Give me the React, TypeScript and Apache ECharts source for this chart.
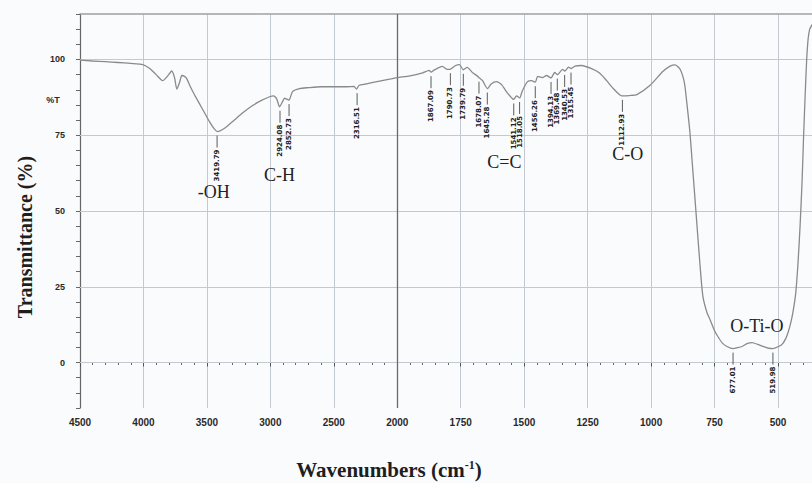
import React, { useEffect, useRef } from "react";
import * as echarts from "echarts";

// Spectrum (wavenumber in cm-1, transmittance in %)
const wavenumbers = [
  4500, 4400, 4300, 4200, 4100, 4005, 3950, 3900, 3848, 3810, 3777, 3755, 3737, 3715, 3698, 3680, 3659, 3635,
  3600, 3560, 3520, 3480, 3440, 3415, 3380, 3340, 3297, 3220, 3140, 3070, 3006, 2975, 2950, 2928, 2905, 2888,
  2865, 2853, 2825, 2770, 2700, 2600, 2500, 2400, 2340, 2322, 2300, 2250, 2150, 2050, 2000,
  1950, 1900, 1874, 1867, 1855, 1822, 1803, 1790, 1770, 1755, 1740, 1724, 1704, 1684, 1678, 1664, 1645, 1629,
  1609, 1589, 1570, 1541, 1530, 1518, 1507, 1487, 1471, 1456, 1447, 1428, 1412, 1394, 1380, 1369, 1349, 1340,
  1325, 1315, 1300, 1274, 1230, 1203, 1175, 1150, 1116, 1085, 1056, 1005, 954, 925, 905, 887, 875, 867, 857,
  847, 837, 827, 808, 796, 780, 768, 750, 737, 720, 701, 677, 660, 642, 620, 602, 580, 559, 540, 520, 500, 484,
  470, 460, 450, 441, 430, 421, 413, 405, 399, 393, 387, 381, 375, 369, 366,
];
const transmittance = [
  99.8, 99.5, 99.3, 99.0, 98.7, 98.3, 97.0, 95.0, 93.0, 94.5, 96.2, 94.0, 90.2, 92.5, 94.7, 94.5, 93.7, 91.4,
  88.5, 85.5, 82.5, 79.5, 77.0, 76.2, 76.8, 78.0, 79.5, 82.3, 84.8, 86.5, 87.7, 88.0, 87.0, 84.4, 86.0, 87.2,
  86.8, 86.6, 89.4, 90.4, 90.7, 91.0, 91.0, 91.0, 91.1, 90.2, 91.5, 91.9, 92.8, 93.6, 94.0,
  94.6, 95.6, 96.4, 95.8, 96.5, 97.7, 96.7, 96.8, 98.0, 98.3, 96.6, 97.4, 95.7, 94.5, 94.0, 93.0, 90.4, 92.0,
  92.7, 91.7, 89.4, 86.8, 88.0, 87.3, 89.7, 92.7, 93.0, 92.5, 94.4, 94.0, 94.7, 93.9, 95.7, 95.0, 96.7, 96.2,
  97.5, 97.0, 97.8, 98.0, 96.8, 95.5, 93.0, 90.5, 88.0, 88.1, 88.4, 91.4, 96.0, 97.8, 98.2, 97.0, 94.5, 91.4, 84.0,
  76.0, 65.0, 54.0, 33.0, 21.9, 16.5, 14.2, 10.5, 8.6, 6.5, 5.3, 4.6, 4.9, 5.3, 6.3, 6.6, 6.0, 5.3, 4.8, 4.6, 5.2, 6.0,
  7.8, 10.0, 13.0, 16.6, 23.0, 33.0, 45.0, 60.0, 75.0, 88.0, 100.0, 107.0, 110.0, 111.0, 111.5,
];

// Peak annotations
const peakLabels = [
  "3419.79", "2924.08", "2852.73", "2316.51", "1867.09", "1790.73", "1739.79", "1678.07", "1645.28",
  "1541.12", "1518.05", "1456.26", "1394.13", "1369.48", "1340.53", "1315.45", "1112.93", "677.01", "519.98",
];
const peakT = [76.2, 84.4, 86.6, 90.2, 95.8, 96.8, 96.6, 94.0, 90.4, 86.8, 87.3, 92.5, 93.9, 95.0, 96.2, 97.0, 88.0, 4.6, 4.6];

// Functional group labels
const groupNames = ["-OH", "C-H", "C=C", "C-O", "O-Ti-O"];
const groupW = [3447, 2928, 1578, 1092, 583];
const groupT = [56.3, 62.0, 66.2, 68.9, 11.9];

// Axes
const xTickWavenumbers = [4500, 4000, 3500, 3000, 2500, 2000, 1750, 1500, 1250, 1000, 750, 500];
const yGridValues = [0, 25, 50, 75, 100];
const scaleBreak = 2000;
const xLeftEnd = 366;
const yMin = -15;
const yMax = 115;

// Broken wavenumber scale: above 2000 cm-1 each unit counts half
const toU = (w: number) => (w >= scaleBreak ? (4500 - w) / 2 : (4500 - scaleBreak) / 2 + (scaleBreak - w));
const fromU = (u: number) => (u <= (4500 - scaleBreak) / 2 ? 4500 - 2 * u : scaleBreak - (u - (4500 - scaleBreak) / 2));

export default function App() {
  const ref = useRef<HTMLDivElement>(null);
  useEffect(() => {
    if (!ref.current) return;
    const chart = echarts.init(ref.current, null, { renderer: "svg" });
    const curve = wavenumbers.map((w, i) => [toU(w), transmittance[i]]);
    const peaks = peakLabels.map((l, i) => [toU(parseFloat(l)), peakT[i]]);
    const groups = groupNames.map((_, i) => [toU(groupW[i]), groupT[i]]);
    const uMax = toU(xLeftEnd);
    const tickSet = new Set(xTickWavenumbers.map(toU));
    const serif = "'Liberation Serif', 'DejaVu Serif', serif";
    const gridColor = "#c2c9d2";

    chart.setOption({
      animation: false,
      backgroundColor: "#fafbfd",
      grid: { left: 80, right: 0, top: 14, bottom: 75 },
      xAxis: [
        {
          type: "value",
          min: 0,
          max: uMax,
          interval: 250,
          axisLine: { lineStyle: { color: "#666", width: 1.2 } },
          axisTick: { length: 4, lineStyle: { color: "#555" } },
          minorTick: { show: true, splitNumber: 5, length: 2.5, lineStyle: { color: "#666" } },
          axisLabel: {
            margin: 9,
            fontSize: 10,
            fontWeight: "bold",
            color: "#2a2a2a",
            fontFamily: "'Liberation Sans', Arial, sans-serif",
            showMaxLabel: false,
            formatter: (u: number) => (tickSet.has(u) ? String(Math.round(fromU(u))) : ""),
          },
          splitLine: { show: true, lineStyle: { color: gridColor, width: 1 } },
        },
        {
          type: "value",
          position: "top",
          min: 0,
          max: uMax,
          axisLine: { show: true, lineStyle: { color: "#a0a0a0", width: 1.5 } },
          axisTick: { show: false },
          axisLabel: { show: false },
          splitLine: { show: false },
        },
      ],
      yAxis: {
        type: "value",
        min: yMin,
        max: yMax,
        interval: 5,
        axisLine: { show: true, lineStyle: { color: "#666", width: 1.2 } },
        axisTick: { show: true, length: 4, lineStyle: { color: "#666" } },
        axisLabel: {
          margin: 15,
          fontSize: 9,
          fontWeight: "bold",
          color: "#2a2a2a",
          fontFamily: "'Liberation Sans', Arial, sans-serif",
          formatter: (v: number) => (yGridValues.includes(v) ? String(v) : ""),
        },
        splitLine: { show: false },
      },
      series: [
        {
          type: "line",
          data: curve,
          showSymbol: false,
          smooth: 0.2,
          lineStyle: { color: "#8a8a8a", width: 1.3 },
          z: 3,
          markLine: {
            silent: true,
            symbol: "none",
            label: { show: false },
            lineStyle: { color: gridColor, width: 1, type: "solid" },
            emphasis: { disabled: true },
            data: [
              ...yGridValues.map((v) => ({ yAxis: v })),
              { xAxis: toU(scaleBreak), lineStyle: { color: "#6a6a6a", width: 1.3, type: "solid" } },
            ],
            z: 1,
          },
        },
        {
          type: "custom",
          data: peaks,
          z: 4,
          renderItem: (params: any, api: any) => {
            const p = api.coord([api.value(0), api.value(1)]);
            return {
              type: "group",
              children: [
                {
                  type: "line",
                  shape: { x1: p[0], y1: p[1] + 4, x2: p[0], y2: p[1] + 16 },
                  style: { stroke: "#333", lineWidth: 0.8 },
                },
                {
                  type: "text",
                  x: p[0],
                  y: p[1] + 18,
                  rotation: Math.PI / 2,
                  style: {
                    text: peakLabels[params.dataIndex],
                    fontSize: 7,
                    fontFamily: "'DejaVu Sans', sans-serif",
                    fontWeight: "bold",
                    fill: "#222",
                    align: "right",
                    verticalAlign: "middle",
                  },
                },
              ],
            };
          },
        },
        {
          type: "custom",
          data: groups,
          z: 4,
          renderItem: (params: any, api: any) => {
            const p = api.coord([api.value(0), api.value(1)]);
            return {
              type: "text",
              x: p[0],
              y: p[1],
              style: {
                text: groupNames[params.dataIndex],
                fontSize: 18,
                fontFamily: serif,
                fill: "#222",
                align: "center",
                verticalAlign: "middle",
              },
            };
          },
        },
      ],
      graphic: [
        {
          type: "text",
          x: 25,
          y: 237,
          rotation: Math.PI / 2,
          style: {
            text: "Transmittance (%)",
            fontSize: 20,
            fontWeight: "bold",
            fontFamily: serif,
            fill: "#1e1e1e",
            align: "center",
            verticalAlign: "middle",
          },
        },
        {
          type: "text",
          x: 389,
          y: 470,
          style: {
            text: "{a|Wavenumbers (cm}{s|-1}{a|)}",
            align: "center",
            verticalAlign: "middle",
            rich: {
              a: { fontSize: 21, fontWeight: "bold", fontFamily: serif, fill: "#1e1e1e" },
              s: { fontSize: 12, fontWeight: "bold", fontFamily: serif, fill: "#1e1e1e", verticalAlign: "top", padding: [0, 0, 10, 0] },
            },
          },
        },
        {
          type: "text",
          x: 53,
          y: 100,
          style: {
            text: "%T",
            fontSize: 9,
            fontWeight: "bold",
            fontFamily: "'Liberation Sans', Arial, sans-serif",
            fill: "#2a2a2a",
            align: "center",
            verticalAlign: "middle",
          },
        },
      ],
    });
    return () => chart.dispose();
  }, []);
  return <div ref={ref} style={{ position: "fixed", left: 0, top: 0, width: 812, height: 483 }} />;
}
